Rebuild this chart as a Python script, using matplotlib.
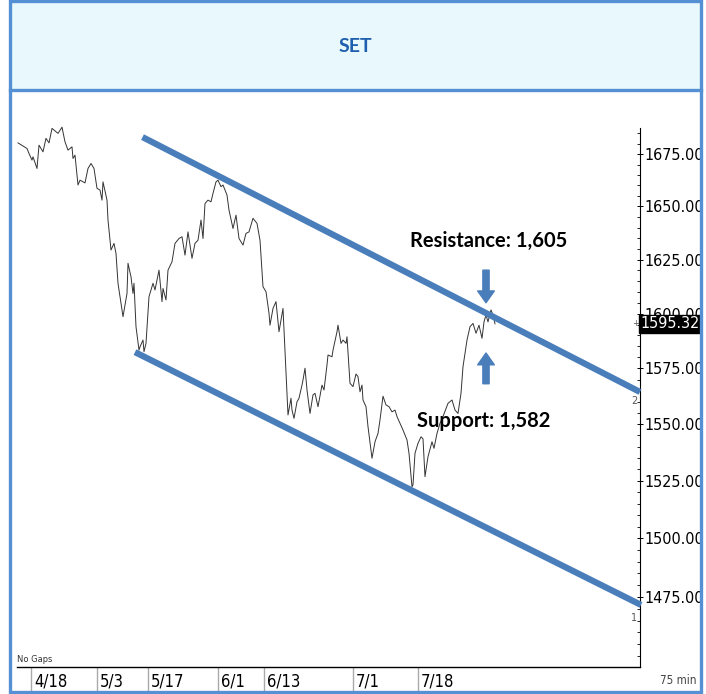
import matplotlib
matplotlib.use("Agg")
import matplotlib.pyplot as plt
import matplotlib.ticker as mticker
from matplotlib import font_manager as fm
from matplotlib.patches import Rectangle
from matplotlib.lines import Line2D
from matplotlib.transforms import blended_transform_factory

# price readings (bar number, close)
bars = [0, 9, 11, 14, 15, 19, 21, 25, 28, 31, 34, 40, 44, 47, 50, 54, 55, 57, 60, 62,
        67, 70, 73, 76, 79, 82, 84, 85, 89, 90, 93, 96, 98, 100, 105, 109, 110, 113, 115, 116,
        118, 121, 122, 125, 126, 128, 131, 135, 137, 141, 144, 145, 148, 150, 154, 157, 161, 164, 167, 170,
        174, 177, 180, 183, 185, 187, 190, 193, 195, 198, 200, 203, 205, 209, 211, 215, 218, 221, 225, 228,
        231, 235, 239, 242, 245, 248, 251, 252, 255, 258, 261, 265, 267, 269, 270, 273, 274, 276, 279, 281,
        284, 285, 287, 289, 292, 295, 297, 300, 304, 306, 309, 310, 314, 315, 319, 320, 323, 325, 328, 329,
        332, 335, 338, 340, 342, 344, 345, 348, 350, 354, 357, 360, 362, 365, 368, 371, 374, 377, 379, 382,
        385, 389, 391, 394, 395, 397, 400, 403, 405, 407, 410, 414, 416, 419, 422, 425, 430, 434, 437, 440,
        443, 445, 449, 452, 455, 458, 461, 464, 466, 468, 470, 473, 475, 477]
prices = [1680.4, 1677.7, 1675.3, 1672.1, 1673.7, 1668.1, 1679.3, 1676.1, 1682.6, 1680.4, 1687.4, 1685.0, 1688.0, 1680.9, 1676.9, 1678.5, 1672.9, 1674.5, 1660.2, 1662.5,
          1661.2, 1668.1, 1670.5, 1668.1, 1658.6, 1657.8, 1653.0, 1661.7, 1653.0, 1643.6, 1629.5, 1632.6, 1627.9, 1614.0, 1598.6, 1609.3, 1623.3, 1617.0, 1609.3, 1614.0,
          1594.0, 1583.3, 1584.8, 1587.9, 1582.6, 1586.4, 1607.8, 1614.0, 1610.9, 1620.1, 1605.5, 1611.6, 1606.3, 1620.1, 1624.0, 1632.6, 1634.9, 1635.7, 1627.1, 1638.0,
          1625.6, 1632.6, 1634.1, 1643.6, 1634.9, 1651.4, 1653.0, 1652.2, 1656.2, 1661.7, 1662.5, 1659.4, 1660.2, 1655.4, 1648.3, 1639.6, 1645.9, 1634.9, 1631.8, 1637.3,
          1638.0, 1644.4, 1642.0, 1634.1, 1612.4, 1610.1, 1600.2, 1594.7, 1602.4, 1605.5, 1591.7, 1602.4, 1583.3, 1563.8, 1554.1, 1561.6, 1556.3, 1552.6, 1560.0, 1561.6,
          1567.5, 1569.8, 1575.1, 1565.3, 1554.8, 1563.1, 1563.8, 1557.8, 1567.5, 1565.3, 1576.6, 1581.1, 1580.3, 1583.3, 1591.7, 1594.7, 1586.4, 1587.9, 1586.4, 1589.4,
          1568.3, 1566.8, 1572.5, 1571.3, 1564.5, 1567.5, 1560.8, 1557.8, 1548.9, 1534.9, 1542.2, 1545.9, 1551.9, 1562.5, 1558.6, 1557.8, 1555.5, 1556.3, 1553.4, 1550.4,
          1547.4, 1543.0, 1537.1, 1522.4, 1523.2, 1537.1, 1541.5, 1544.4, 1543.5, 1526.8, 1535.6, 1542.2, 1539.3, 1545.9, 1550.4, 1553.4, 1559.3, 1560.8, 1556.3, 1554.8,
          1563.8, 1575.8, 1587.9, 1594.0, 1595.5, 1591.0, 1594.7, 1588.7, 1596.2, 1599.4, 1596.2, 1601.7, 1599.4, 1595.32]

last_price = 1595.32
resistance = 1605
support = 1582

# channel lines (bar, price) endpoints
upper_x = [124.5, 622]
upper_y = [1683.2, 1564.4]
lower_x = [117, 623]
lower_y = [1582.4, 1471.6]

date_bars = [13, 79, 130, 200, 246, 335, 400]
date_labels = ["4/18", "5/3", "5/17", "6/1", "6/13", "7/1", "7/18"]
ytick_vals = [1475, 1500, 1525, 1550, 1575, 1600, 1625, 1650, 1675]

blue = "#4a7ebb"
frame_blue = "#5590d4"

# pick a condensed font for the axis labels if one is installed
installed = fm.fontManager.ttflist
names = {f.name for f in installed}
if "Liberation Sans Narrow" in names:
    nfam, nstretch, nsize = "Liberation Sans Narrow", "normal", 13
elif any(f.name == "DejaVu Sans" and f.stretch == "condensed" for f in installed):
    nfam, nstretch, nsize = "DejaVu Sans", "condensed", 11.5
else:
    nfam, nstretch, nsize = "DejaVu Sans", "normal", 10
scale = nsize / 13

W, H = 706, 694
fig = plt.figure(figsize=(W / 100, H / 100), dpi=100)
fig.patch.set_facecolor("white")

# title band and frame
fig.patches.append(Rectangle((10 / W, 1 - 90 / H), 691 / W, 89 / H, transform=fig.transFigure,
                             facecolor="#e8f8fc", edgecolor="none", zorder=0))
fig.patches.append(Rectangle((10 / W, 1 - 692 / H), 691 / W, 691 / H, transform=fig.transFigure,
                             facecolor="none", edgecolor=frame_blue, lw=2.4, zorder=5))
fig.lines.append(Line2D([10 / W, 701 / W], [1 - 90 / H, 1 - 90 / H], transform=fig.transFigure,
                        color=frame_blue, lw=2.4, zorder=5))
fig.text(355 / W, 1 - 46 / H, "SET", ha="center", va="center", fontsize=14,
         fontweight="bold", color="#1f5fad", family=["Lato", "DejaVu Sans"])

ax = fig.add_axes([17 / W, 27 / H, 623 / W, 539 / H])
ax.set_yscale("log")
ax.set_xlim(-1, 622)
ax.set_ylim(1445.6, 1687.6)

ax.plot(bars, prices, color="#333333", lw=0.7, clip_on=False, zorder=3)
ax.plot(upper_x, upper_y, color=blue, lw=4.5, solid_capstyle="butt", clip_on=False, zorder=4)
ax.plot(lower_x, lower_y, color=blue, lw=4.5, solid_capstyle="butt", clip_on=False, zorder=4)

# arrows
arrow_style = "simple,head_length=0.85,head_width=1.2,tail_width=0.45"
ax.annotate("", xy=(468, resistance), xytext=(468, 1620.1),
            arrowprops=dict(arrowstyle=arrow_style, color=blue, shrinkA=0, shrinkB=0))
ax.annotate("", xy=(468, support), xytext=(468, 1568.1),
            arrowprops=dict(arrowstyle=arrow_style, color=blue, shrinkA=0, shrinkB=0))
ax.text(471, 1633.6, "Resistance: 1,605", ha="center", va="center", fontsize=14.5,
        fontweight="bold", color="black", family=["Lato", "DejaVu Sans"], zorder=6)
ax.text(466, 1551.4, "Support: 1,582", ha="center", va="center", fontsize=14.5,
        fontweight="bold", color="black", family=["Lato", "DejaVu Sans"], zorder=6)

# axes styling
for s in ["left", "top"]:
    ax.spines[s].set_visible(False)
ax.spines["right"].set_linewidth(0.8)
ax.spines["bottom"].set_linewidth(1.0)
ax.yaxis.tick_right()
ax.yaxis.set_major_locator(mticker.FixedLocator(ytick_vals))
ax.yaxis.set_major_formatter(mticker.FuncFormatter(lambda v, p: f"{v:.2f}"))
ax.yaxis.set_minor_locator(mticker.FixedLocator(range(1450, 1690, 5)))
ax.yaxis.set_minor_formatter(mticker.NullFormatter())
ax.tick_params(axis="y", which="major", direction="inout", length=5, width=0.7, pad=1,
               labelsize=nsize, labelcolor="black")
ax.tick_params(axis="y", which="minor", direction="in", length=2.5, width=0.6)
for lab in ax.get_yticklabels():
    lab.set_family(nfam)
    lab.set_stretch(nstretch)

ax.set_xticks(date_bars)
ax.set_xticklabels([])
ax.tick_params(axis="x", direction="out", length=17, width=1, color="#aaaaaa")
trans = blended_transform_factory(ax.transData, ax.transAxes)
for xb, lab in zip(date_bars, date_labels):
    ax.text(xb + 3, -0.027, lab, transform=trans, ha="left", va="center", fontsize=nsize + 0.5,
            family=nfam, fontstretch=nstretch, color="black", clip_on=False)

# last price tag
tag_trans = blended_transform_factory(ax.transAxes, ax.transData)
ax.text(1.001, last_price, "1595.32", transform=tag_trans, ha="left", va="center", fontsize=nsize,
        family=nfam, fontstretch=nstretch, color="white", zorder=10, clip_on=False,
        bbox=dict(boxstyle="square,pad=0.1", fc="black", ec="black"))
fig.text(636 / W, 1 - 323 / H, "+", ha="center", va="center", fontsize=6, color="#555555")

fig.text(17 / W, 1 - 659 / H, "No Gaps", ha="left", va="center", fontsize=7.5 * max(scale, 0.85),
         family=nfam, fontstretch=nstretch, color="#333333")
fig.text(697 / W, 1 - 680 / H, "75 min", ha="right", va="center", fontsize=9.5 * max(scale, 0.85),
         family=nfam, fontstretch=nstretch, color="#444444")
fig.text(634 / W, 1 - 401 / H, "2", ha="center", va="center", fontsize=7,
         family=nfam, color="#555555")
fig.text(634 / W, 1 - 618 / H, "1", ha="center", va="center", fontsize=7,
         family=nfam, color="#555555")

fig.savefig("out.png", dpi=100)
